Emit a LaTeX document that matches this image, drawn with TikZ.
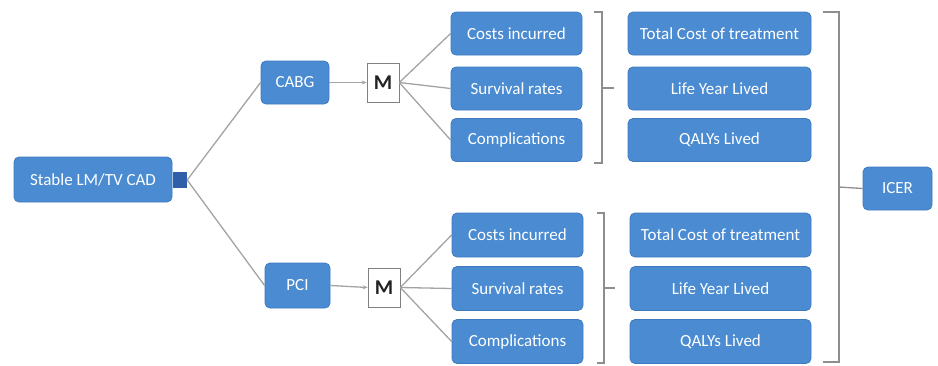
\documentclass[tikz,border=0pt]{standalone}
\usepackage{fontspec}
\setmainfont{Carlito}
\usetikzlibrary{arrows.meta}
\definecolor{boxblue}{HTML}{4A8BD2}
\definecolor{boxedge}{HTML}{3F7AC0}
\definecolor{sqblue}{HTML}{2F5FA8}
\definecolor{linegray}{HTML}{A3A3A3}
\definecolor{brgray}{HTML}{8E8E8E}
\definecolor{mtext}{HTML}{222222}
\tikzset{
  bluebox/.style={draw=boxedge, line width=0.8pt, fill=boxblue, rounded corners=5pt,
    text=white, font=\fontsize{17}{19}\selectfont, inner sep=0pt, align=center},
  mbox/.style={draw=gray, line width=0.6pt, fill=white, minimum width=32pt, minimum height=39pt,
    inner sep=0pt, text=mtext, font=\fontsize{21}{23}\selectfont\bfseries},
  conn/.style={draw=linegray, line width=1.3pt},
  connarrow/.style={conn, -{Stealth[length=5pt,width=4pt]}},
  bracket/.style={draw=brgray, line width=1.3pt},
}
\begin{document}
\begin{tikzpicture}[x=1pt,y=-1pt]
\useasboundingbox (0,0) rectangle (938,365);
% main nodes
\node[bluebox, minimum width=158pt, minimum height=45pt] (stable) at (93,179.5) {Stable LM/TV CAD};
\node[fill=sqblue, minimum width=14pt, minimum height=16pt, inner sep=0pt] (sq) at (180,180) {};
\node[bluebox, minimum width=68pt, minimum height=43pt] (cabg) at (295,82.5) {CABG};
\node[bluebox, minimum width=65pt, minimum height=45pt] (pci) at (297.5,285.5) {PCI};
\node[mbox] (m1) at (383,82.5) {M};
\node[mbox] (m2) at (384,287.5) {M};
% outcomes top
\node[bluebox, minimum width=131pt, minimum height=43pt] (o1) at (516.5,33.5) {Costs incurred};
\node[bluebox, minimum width=131pt, minimum height=43pt] (o2) at (516.5,88.5) {Survival rates};
\node[bluebox, minimum width=131pt, minimum height=43pt] (o3) at (516.5,140) {Complications};
% outcomes bottom
\node[bluebox, minimum width=131pt, minimum height=44pt] (p1) at (517.5,235) {Costs incurred};
\node[bluebox, minimum width=131pt, minimum height=44pt] (p2) at (517.5,288.5) {Survival rates};
\node[bluebox, minimum width=131pt, minimum height=44pt] (p3) at (517.5,341.5) {Complications};
% measures top
\node[bluebox, minimum width=183pt, minimum height=43pt] (t1) at (719.5,33.5) {Total Cost of treatment};
\node[bluebox, minimum width=183pt, minimum height=43pt] (t2) at (719.5,88.5) {Life Year Lived};
\node[bluebox, minimum width=183pt, minimum height=43pt] (t3) at (719.5,140) {QALYs Lived};
% measures bottom
\node[bluebox, minimum width=181pt, minimum height=44pt] (u1) at (720.5,235) {Total Cost of treatment};
\node[bluebox, minimum width=181pt, minimum height=44pt] (u2) at (720.5,288.5) {Life Year Lived};
\node[bluebox, minimum width=181pt, minimum height=44pt] (u3) at (720.5,341.5) {QALYs Lived};
% ICER
\node[bluebox, minimum width=69pt, minimum height=43pt] (icer) at (897.5,188.5) {ICER};
% connectors
\draw[conn] (sq.east) -- (cabg.west);
\draw[conn] (sq.east) -- (pci.west);
\draw[connarrow] (cabg.east) -- (m1.west);
\draw[connarrow] (pci.east) -- (m2.west);
\draw[conn] (m1.east) -- (o1.west);
\draw[conn] (m1.east) -- (o2.west);
\draw[conn] (m1.east) -- (o3.west);
\draw[conn] (m2.east) -- (p1.west);
\draw[conn] (m2.east) -- (p2.west);
\draw[conn] (m2.east) -- (p3.west);
% brackets
\draw[bracket] (594,12) -- (602,12) -- (602,163) -- (594,163);
\draw[bracket] (602,88) -- (614,88);
\draw[bracket] (597,213) -- (604,213) -- (604,363) -- (597,363);
\draw[bracket] (604,288) -- (615,288);
\coordinate (icerin) at (839,187);
\draw[bracket] (823,12) -- (839,12) -- (839,362) -- (823,362);
\draw[bracket] (icerin) -- (icer.west);
\end{tikzpicture}
\end{document}
